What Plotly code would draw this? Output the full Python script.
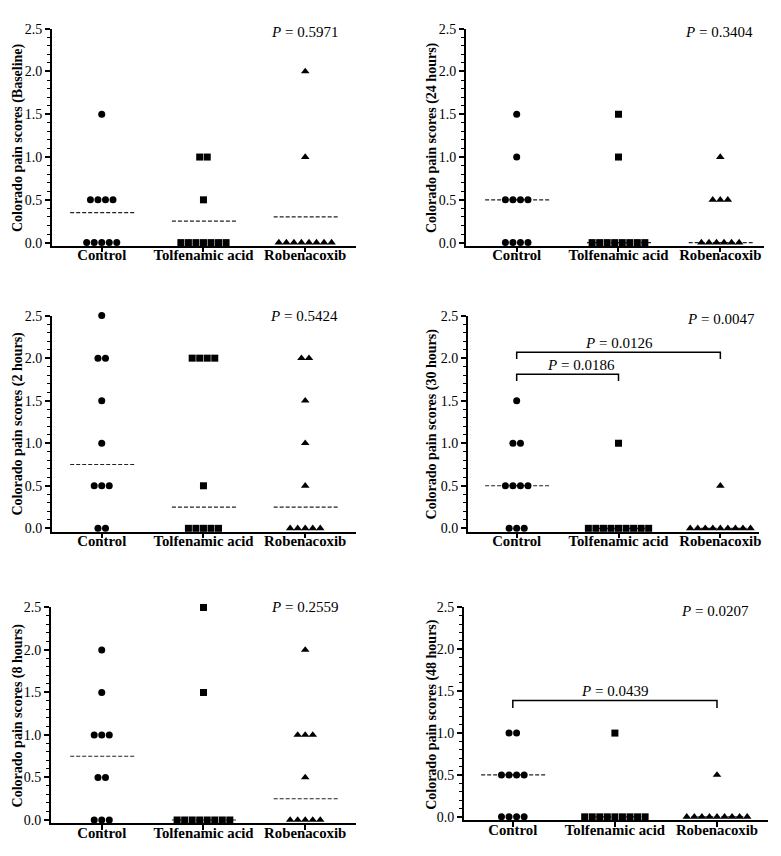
import plotly.graph_objects as go

groups = ["Control", "Tolfenamic acid", "Robenacoxib"]

titles = [
    "Colorado pain scores (Baseline)",
    "Colorado pain scores (24 hours)",
    "Colorado pain scores (2 hours)",
    "Colorado pain scores (30 hours)",
    "Colorado pain scores (8 hours)",
    "Colorado pain scores (48 hours)",
]

# individual scores per panel: [Control, Tolfenamic acid, Robenacoxib]
scores_baseline = [
    [0, 0, 0, 0, 0, 0.5, 0.5, 0.5, 0.5, 1.5],
    [0, 0, 0, 0, 0, 0, 0, 0.5, 1, 1],
    [0, 0, 0, 0, 0, 0, 0, 0, 1, 2],
]
scores_24h = [
    [0, 0, 0, 0, 0.5, 0.5, 0.5, 0.5, 1, 1.5],
    [0, 0, 0, 0, 0, 0, 0, 0, 1, 1.5],
    [0, 0, 0, 0, 0, 0, 0.5, 0.5, 0.5, 1],
]
scores_2h = [
    [0, 0, 0.5, 0.5, 0.5, 1, 1.5, 2, 2, 2.5],
    [0, 0, 0, 0, 0, 0.5, 2, 2, 2, 2],
    [0, 0, 0, 0, 0, 0.5, 1, 1.5, 2, 2],
]
scores_30h = [
    [0, 0, 0, 0.5, 0.5, 0.5, 0.5, 1, 1, 1.5],
    [0, 0, 0, 0, 0, 0, 0, 0, 0, 1],
    [0, 0, 0, 0, 0, 0, 0, 0, 0, 0.5],
]
scores_8h = [
    [0, 0, 0, 0.5, 0.5, 1, 1, 1, 1.5, 2],
    [0, 0, 0, 0, 0, 0, 0, 0, 1.5, 2.5],
    [0, 0, 0, 0, 0, 0.5, 1, 1, 1, 2],
]
scores_48h = [
    [0, 0, 0, 0, 0.5, 0.5, 0.5, 0.5, 1, 1],
    [0, 0, 0, 0, 0, 0, 0, 0, 0, 1],
    [0, 0, 0, 0, 0, 0, 0, 0, 0, 0.5],
]
panel_scores = [scores_baseline, scores_24h, scores_2h, scores_30h, scores_8h, scores_48h]

# dashed central line per group
center_baseline = [0.35, 0.25, 0.30]
center_24h = [0.5, 0.0, 0.0]
center_2h = [0.75, 0.25, 0.25]
center_30h = [0.5, 0.0, 0.0]
center_8h = [0.75, 0.0, 0.25]
center_48h = [0.5, 0.0, 0.0]
panel_centers = [center_baseline, center_24h, center_2h, center_30h, center_8h, center_48h]

overall_p = ["0.5971", "0.3404", "0.5424", "0.0047", "0.2559", "0.0207"]

# pairwise comparisons: (panel, group a, group b, p-value)
pair_panel = [3, 3, 5]
pair_a = [0, 0, 0]
pair_b = [1, 2, 2]
pair_p = ["0.0186", "0.0126", "0.0439"]

# ---------- layout geometry (pixels) ----------
W, H = 781, 856
geom = [
    # x0, x1, ytop, ybottom, ymin, xmin, xmax
    (52, 357, 22, 242, -0.035, -0.49, 2.5),
    (467, 766, 22, 242, -0.035, -0.50, 2.43),
    (52, 357, 313, 532, -0.038, -0.49, 2.5),
    (469, 761, 313, 532, -0.038, -0.48, 2.38),
    (51, 357, 609, 828, -0.040, -0.50, 2.5),
    (465, 770, 609, 825, -0.043, -0.48, 2.5),
]
title_x = [18, 433, 18, 433, 18, 433]
p_pos = [(305, 25), (721, 25), (305, 313), (723, 316), (305, 609), (717, 613)]
pair_top = [1.81, 2.07, 1.39]
pair_foot = [1.73, 1.99, 1.30]
pair_label_x = [0.63, 1.0, 1.0]

symbols = ["circle", "square", "triangle-up"]
spacing = 0.074
FONT = "Liberation Serif, Times New Roman, serif"

fig = go.Figure()
annotations = []

for p in range(6):
    ax = "" if p == 0 else str(p + 1)
    xr, yr = "x" + ax, "y" + ax
    x0, x1, yt, yb, ymin, xmin, xmax = geom[p]
    # dashed central lines
    for g in range(3):
        c = panel_centers[p][g]
        fig.add_trace(go.Scatter(
            x=[g - 0.31, g + 0.33], y=[c, c], mode="lines",
            line=dict(color="#222", width=1.2, dash="4px,2px"),
            xaxis=xr, yaxis=yr, showlegend=False, hoverinfo="skip",
            cliponaxis=False))
    # points in swarm layout
    for g in range(3):
        vals = panel_scores[p][g]
        xs, ys = [], []
        uniq = sorted(set(vals))
        for v in uniq:
            n = vals.count(v)
            for i in range(n):
                xs.append(g + (i - (n - 1) / 2) * spacing)
                ys.append(v)
        fig.add_trace(go.Scatter(
            x=xs, y=ys, mode="markers",
            marker=dict(symbol=symbols[g], size=7 if g < 2 else 7.5, color="black",
                        line=dict(width=0)),
            xaxis=xr, yaxis=yr, showlegend=False, cliponaxis=False))
    fig.update_layout(**{
        "xaxis" + ax: dict(
            domain=[x0 / W, x1 / W], range=[xmin, xmax], anchor=yr,
            tickvals=[0, 1, 2], ticktext=["<b>%s</b>" % s for s in groups],
            showline=True, linecolor="black", linewidth=1.5,
            ticks="outside", ticklen=5, tickwidth=1.5, tickcolor="black",
            ticklabelstandoff=-10,
            showgrid=False, zeroline=False,
            tickfont=dict(family=FONT, size=14.8, color="black")),
        "yaxis" + ax: dict(
            domain=[1 - yb / H, 1 - yt / H], range=[ymin, 2.5], anchor=xr,
            tick0=0, dtick=0.5, tickformat=".1f",
            showline=True, linecolor="black", linewidth=1.5,
            ticks="outside", ticklen=5, tickwidth=1.5, tickcolor="black",
            minor=dict(dtick=0.1, ticks="outside", ticklen=3.5, tickwidth=1, tickcolor="black"),
            showgrid=False, zeroline=False,
            tickfont=dict(family=FONT, size=14, color="black")),
    })
    annotations.append(dict(
        text="<b>%s</b>" % titles[p], textangle=-90,
        xref="paper", yref="paper", x=title_x[p] / W, y=1 - (yt + yb) / 2 / H,
        xanchor="center", yanchor="middle", showarrow=False,
        font=dict(family=FONT, size=14, color="black")))
    px, py = p_pos[p]
    annotations.append(dict(
        text="<i>P</i> = %s" % overall_p[p],
        xref="paper", yref="paper", x=px / W, y=1 - py / H,
        xanchor="center", yanchor="middle", showarrow=False,
        font=dict(family=FONT, size=15, color="black")))

for k in range(len(pair_p)):
    p = pair_panel[k]
    ax = "" if p == 0 else str(p + 1)
    a, b = pair_a[k], pair_b[k]
    fig.add_trace(go.Scatter(
        x=[a, a, b, b], y=[pair_foot[k], pair_top[k], pair_top[k], pair_foot[k]],
        mode="lines", line=dict(color="black", width=1.5),
        xaxis="x" + ax, yaxis="y" + ax, showlegend=False, hoverinfo="skip"))
    annotations.append(dict(
        text="<i>P</i> = %s" % pair_p[k],
        xref="x" + ax, yref="y" + ax, x=pair_label_x[k], y=pair_top[k],
        xanchor="center", yanchor="bottom", yshift=-1, showarrow=False,
        font=dict(family=FONT, size=15, color="black")))

fig.update_layout(
    width=W, height=H, margin=dict(l=0, r=0, t=0, b=0),
    paper_bgcolor="white", plot_bgcolor="white",
    annotations=annotations, showlegend=False, hovermode=False,
    font=dict(family=FONT, color="black"))

fig.write_html("out.html", config={"displayModeBar": False},
               post_script="document.body.style.margin='0px';document.body.style.overflow='hidden';")
